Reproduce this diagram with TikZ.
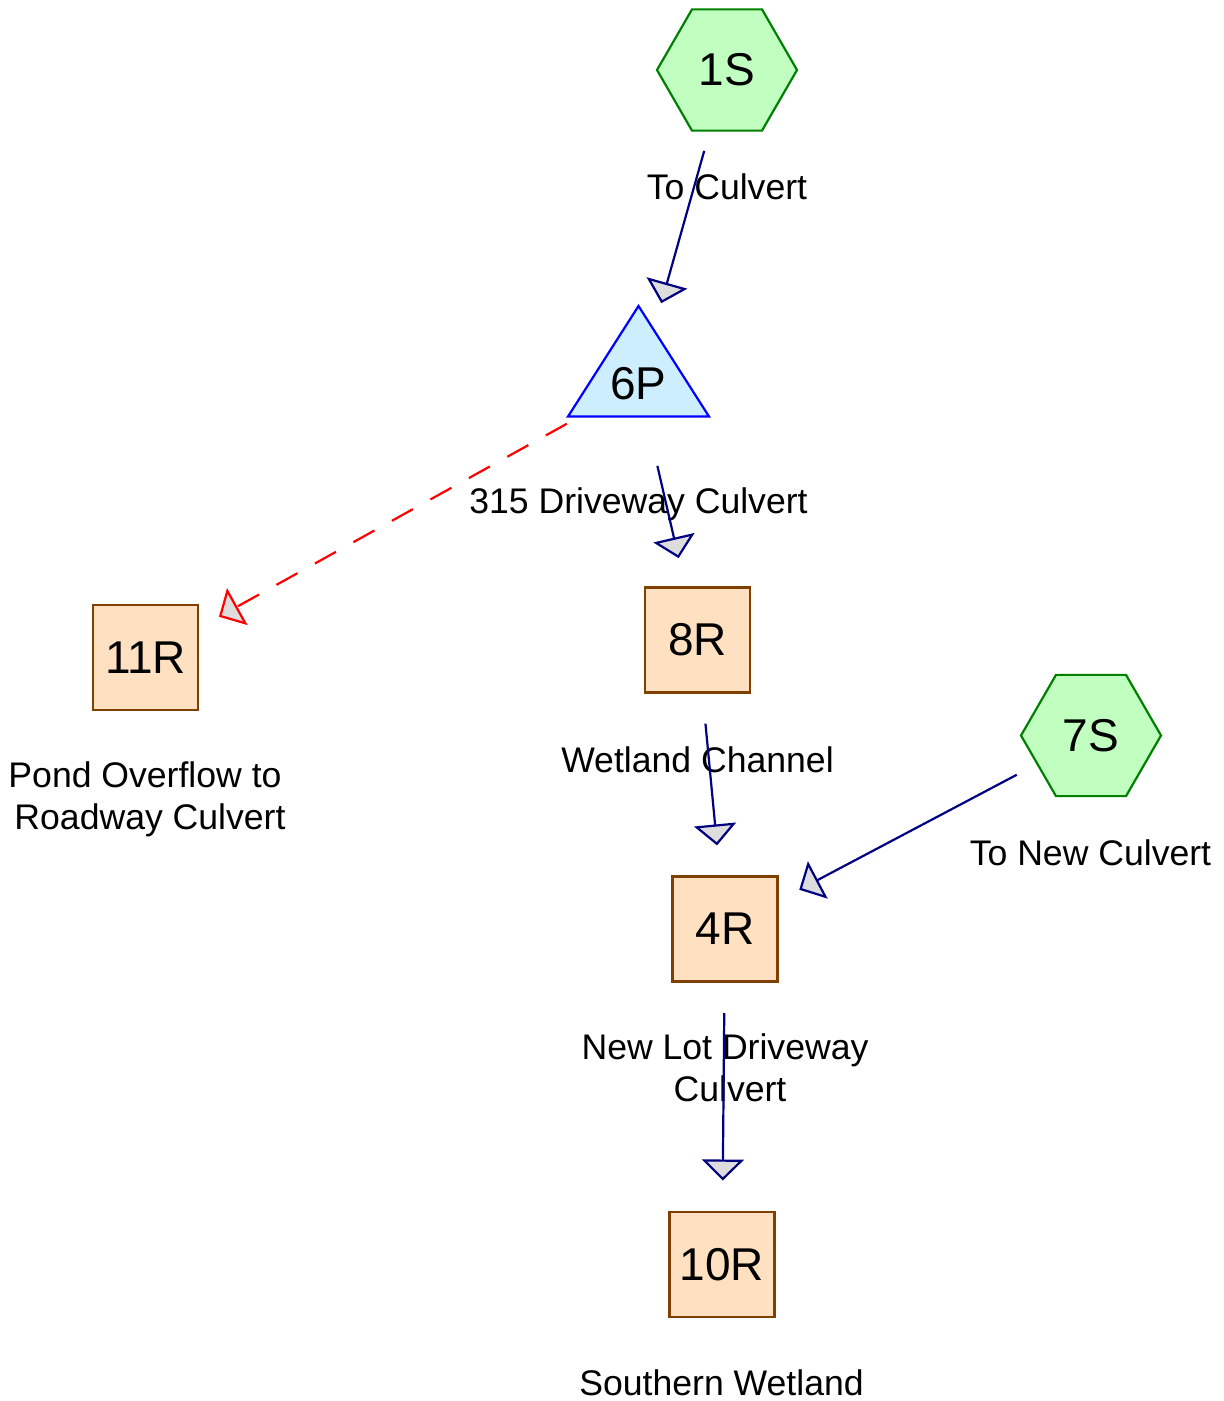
\documentclass[tikz,border=0pt]{standalone}
\usepackage{fontspec}
\setmainfont{Liberation Sans}
\usetikzlibrary{shapes.geometric,arrows.meta}
\definecolor{hexfill}{HTML}{C0FFC0}
\definecolor{hexdraw}{HTML}{008000}
\definecolor{trifill}{HTML}{CCEEFF}
\definecolor{tridraw}{HTML}{0000FF}
\definecolor{boxfill}{HTML}{FFE0C0}
\definecolor{boxdraw}{HTML}{804000}
\definecolor{linkcol}{HTML}{000080}
\definecolor{headfill}{HTML}{DDDDDD}
\newcommand{\nodefont}{\fontsize{23}{27}\selectfont}
\newcommand{\lblfont}{\fontsize{17.8}{21}\selectfont}
\tikzset{
  hexnode/.style={regular polygon, regular polygon sides=6, minimum size=70pt, inner sep=0pt,
    fill=hexfill, draw=hexdraw, line width=1.1pt, font=\nodefont},
  boxnode/.style={rectangle, minimum size=52.5pt, inner sep=0pt,
    fill=boxfill, draw=boxdraw, line width=1.1pt, font=\nodefont},
  trishape/.style={fill=trifill, draw=tridraw, line width=1.1pt, line join=miter},
  trinode/.style={inner sep=0pt, font=\nodefont},
  lbl/.style={font=\lblfont, align=center, inner sep=0pt},
  link/.style={draw=linkcol, line width=1.1pt, shorten <=42pt, shorten >=42pt,
    -{Triangle[length=10.5pt,width=21pt,fill=headfill]}},
  overflow/.style={draw=red, line width=1.1pt, dash pattern=on 12pt off 10pt,
    shorten <=41pt, shorten >=42pt,
    -{Triangle[length=10.5pt,width=21pt,fill=headfill]}}
}
\begin{document}
\begin{tikzpicture}[x=0.5pt,y=-0.5pt]
\useasboundingbox (0,0) rectangle (1223,1401);
% nodes
\node[hexnode] (1S) at (727,70) {1S};
\node[hexnode] (7S) at (1091,735.5) {7S};
\filldraw[trishape] (638.5,306) -- (709,416.5) -- (568,416.5) -- cycle;
\node[trinode] (6P) at (638.5,384) {6P};
\node[boxnode] (8R) at (697.5,640) {8R};
\node[boxnode] (11R) at (145.5,657.5) {11R};
\node[boxnode] (4R) at (725,929) {4R};
\node[boxnode] (10R) at (722,1264.5) {10R};
% labels
\node[lbl, anchor=base] (l1S) at (727,200) {To Culvert};
\node[lbl, anchor=base] (l6P) at (638.5,513) {315 Driveway Culvert};
\node[lbl, anchor=base] (l8R) at (697.5,772) {Wetland Channel};
\node[lbl, anchor=base] (l7S) at (1090.5,865) {To New Culvert};
\node[lbl, anchor=base] (l11R) at (150,829) {Pond Overflow to\kern5pt\\Roadway Culvert};
\node[lbl, anchor=base] (l4R) at (730,1101) {New Lot Driveway\kern5pt\\Culvert};
\node[lbl, anchor=base] (l10R) at (721.5,1395) {Southern Wetland};
% connectors
\draw[link] (1S.center) -- (6P.center);
\draw[link] (6P.center) -- (8R.center);
\draw[overflow] (6P.center) -- (11R.center);
\draw[link] (8R.center) -- (4R.center);
\draw[link] (7S.center) -- (4R.center);
\draw[link] (4R.center) -- (10R.center);
\end{tikzpicture}
\end{document}
